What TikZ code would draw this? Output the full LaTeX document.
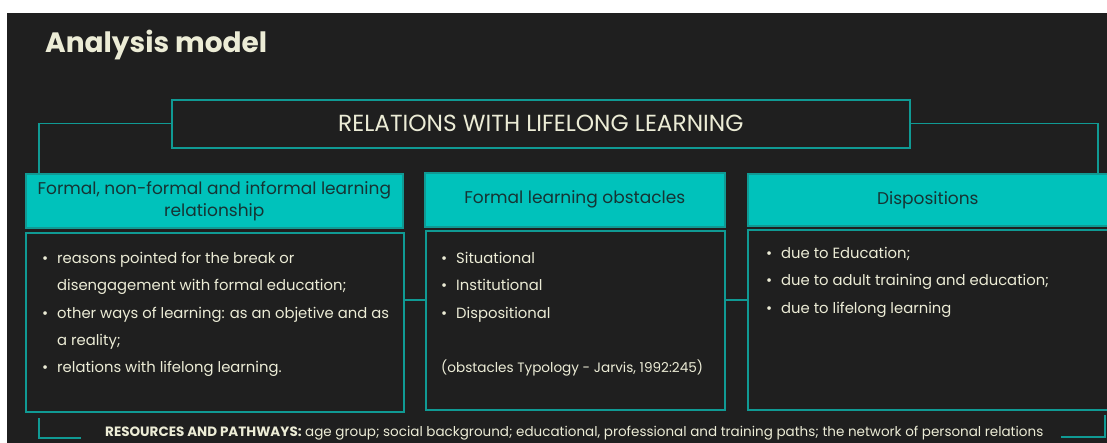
\documentclass[tikz,border=0pt]{standalone}
\usepackage{fontspec}
\setmainfont{Poppins}
\usetikzlibrary{calc}
\definecolor{bgdark}{RGB}{31,31,31}
\definecolor{tealfill}{RGB}{0,194,187}
\definecolor{tealline}{RGB}{16,154,148}
\definecolor{cream}{RGB}{236,236,214}
\definecolor{hdrtext}{RGB}{22,52,52}
\newcommand{\bul}{\makebox[15pt][l]{•}}
\newcommand{\ind}{\hspace*{15pt}}
\begin{document}
\begin{tikzpicture}[x=1pt,y=-1pt,
  hdrbox/.style={draw=tealline, line width=1.6pt, fill=tealfill, text=hdrtext, anchor=north west, inner sep=0pt, align=center, font=\fontsize{17}{22}\selectfont},
  bodybox/.style={draw=tealline, line width=1.6pt, anchor=north west, inner sep=0pt},
  bodytext/.style={text=cream, anchor=north west, inner sep=0pt, align=left, font=\fontsize{14.8}{27.3}\selectfont},
  conn/.style={draw=tealline, line width=1.4pt}
]
\useasboundingbox (0,0) rectangle (1107,443);
\fill[white] (0,0) rectangle (1107,443);
\clip (0,0) rectangle (1107,443);
\fill[bgdark] (7,13) rectangle (1107,443);

\node[text=cream, anchor=base west, inner sep=0pt, font=\fontsize{28}{30}\selectfont\bfseries] (title) at (45,53) {Analysis model};

\node[draw=tealline, line width=1.6pt, anchor=north west, inner sep=0pt, minimum width=738pt, minimum height=48pt, text=cream, font=\fontsize{23.3}{26}\selectfont] (top) at (171,99) {RELATIONS WITH LIFELONG LEARNING};

\node[hdrbox, minimum width=377pt, minimum height=54pt] (h1) at (25,173) {Formal, non-formal and informal learning\\relationship};
\node[hdrbox, minimum width=300pt, minimum height=54pt] (h2) at (424,172) {Formal learning obstacles};
\node[hdrbox, minimum width=380pt, minimum height=52pt] (h3) at (747,173) {\hspace*{-20pt}Dispositions};

\node[bodybox, minimum width=378pt, minimum height=179pt] (b1) at (25,232) {};
\node[bodybox, minimum width=299pt, minimum height=179pt] (b2) at (425,230) {};
\node[bodybox, minimum width=380pt, minimum height=180pt] (b3) at (747,229) {};

\node[bodytext] (t1) at (42,252) {\bul reasons pointed for the break or\\\ind disengagement with formal education;\\\bul other ways of learning: as an objetive and as\\\ind a reality;\\\bul relations with lifelong learning.};
\node[bodytext] (t2) at (441,252) {\bul Situational\\\bul Institutional\\\bul Dispositional\\[27pt]{\fontsize{13.6}{27.3}\selectfont(obstacles Typology - Jarvis, 1992:245)}};
\node[bodytext] (t3) at (766,247) {\bul due to Education;\\\bul due to adult training and education;\\\bul due to lifelong learning};

\draw[conn] (top.west) -| ($(h1.north west)+(14,0)$);
\draw[conn] (top.east) -| ($(h3.north west)+(351,0)$);
\draw[conn] (b1.east |- 0,300) -- (b2.west |- 0,300);
\draw[conn] (b2.east |- 0,300) -- (b3.west |- 0,300);

\coordinate (bl) at (39,418);
\coordinate (br) at (1105,415);
\draw[conn] (bl) |- ++(42,20);
\draw[conn] (br) |- ++(-44,22);

\node[text=cream, anchor=base west, inner sep=0pt, font=\fontsize{13.5}{15}\selectfont] (res) at (105,436) {\textbf{RESOURCES AND PATHWAYS:} age group; social background; educational, professional and training paths; the network of personal relations};
\end{tikzpicture}
\end{document}
